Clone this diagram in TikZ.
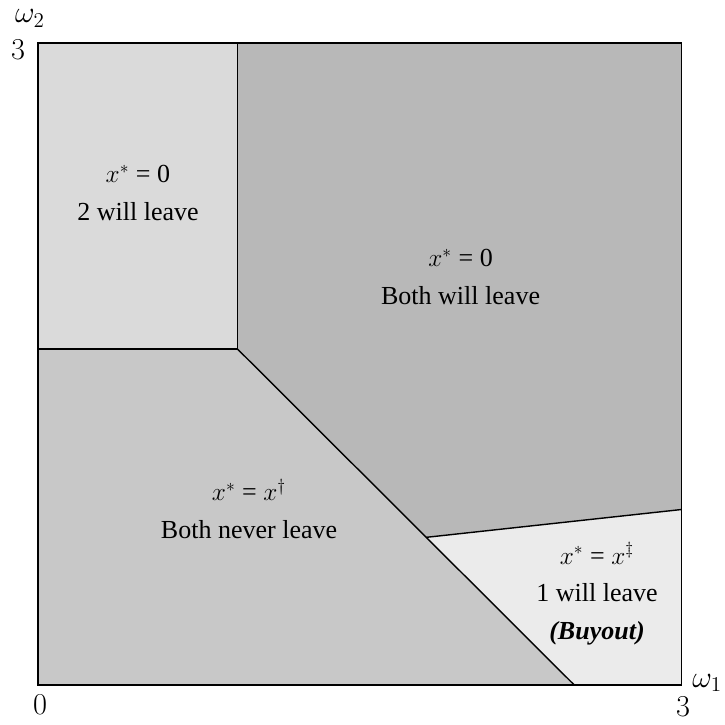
\documentclass[tikz,border=0pt]{standalone}
\usepackage{fontspec}
\setmainfont{Liberation Serif}
\usepackage{tikz}
\usetikzlibrary{positioning,calc}
\definecolor{GrayTL}{HTML}{DADADA}
\definecolor{GrayTR}{HTML}{B8B8B8}
\definecolor{GrayBL}{HTML}{C8C8C8}
\definecolor{GrayBR}{HTML}{EBEBEB}

\begin{document}
\begin{tikzpicture}[x=4.29cm, y=4.28cm,
  region/.style={align=center, font=\fontsize{14.8}{21.5}\selectfont},
  tick/.style={font=\fontsize{17}{20}\selectfont, inner sep=0pt},
  border/.style={draw=black, line width=0.8pt}]
\useasboundingbox (-0.76cm,-0.8cm) rectangle (13.72cm,13.7cm);
% corners of the regions
\coordinate (o) at (0,0);
\coordinate (a) at (0,1.57);
\coordinate (b) at (0.93,1.57);
\coordinate (c) at (1.81,0.69);
\coordinate (d) at (3,0.82);
\coordinate (e) at (2.5,0);
\coordinate (tl) at (0,3);
\coordinate (tm) at (0.93,3);
\coordinate (tr) at (3,3);
\coordinate (br) at (3,0);
% regions
\fill[GrayTL] (a) -- (tl) -- (tm) -- (b) -- cycle;
\fill[GrayTR] (b) -- (tm) -- (tr) -- (d) -- (c) -- cycle;
\fill[GrayBL] (o) -- (a) -- (b) -- (c) -- (e) -- cycle;
\fill[GrayBR] (c) -- (d) -- (br) -- (e) -- cycle;
\draw[border] (a) -- (b) -- (tm);
\draw[border] (b) -- (c) -- (e);
\draw[border] (c) -- (d);
\draw[border] (o) rectangle (tr);
% labels
\node[region] (leave2) at (0.466,2.30) {$x^*$ = 0\\2 will leave};
\node[region] (leaveboth) at (1.97,1.906) {$x^*$ = 0\\Both will leave};
\node[region] (never) at (0.984,0.822) {$x^*$ = $x^\dagger$\\Both never leave};
\node[region] (buyout) at (2.606,0.425) {$x^*$ = $x^\ddagger$\\1 will leave\\\textbf{\textit{(Buyout)}}};
% axes
\node[tick] (w2) at (-0.037,3.115) {$\omega_2$};
\node[tick] (y3) at (-0.093,2.97) {$3$};
\node[tick] (x0) at (0.01,-0.093) {$0$};
\node[tick] (x3) at (3.007,-0.1) {$3$};
\node[tick] (w1) at (3.12,0.01) {$\omega_1$};
\end{tikzpicture}
\end{document}
